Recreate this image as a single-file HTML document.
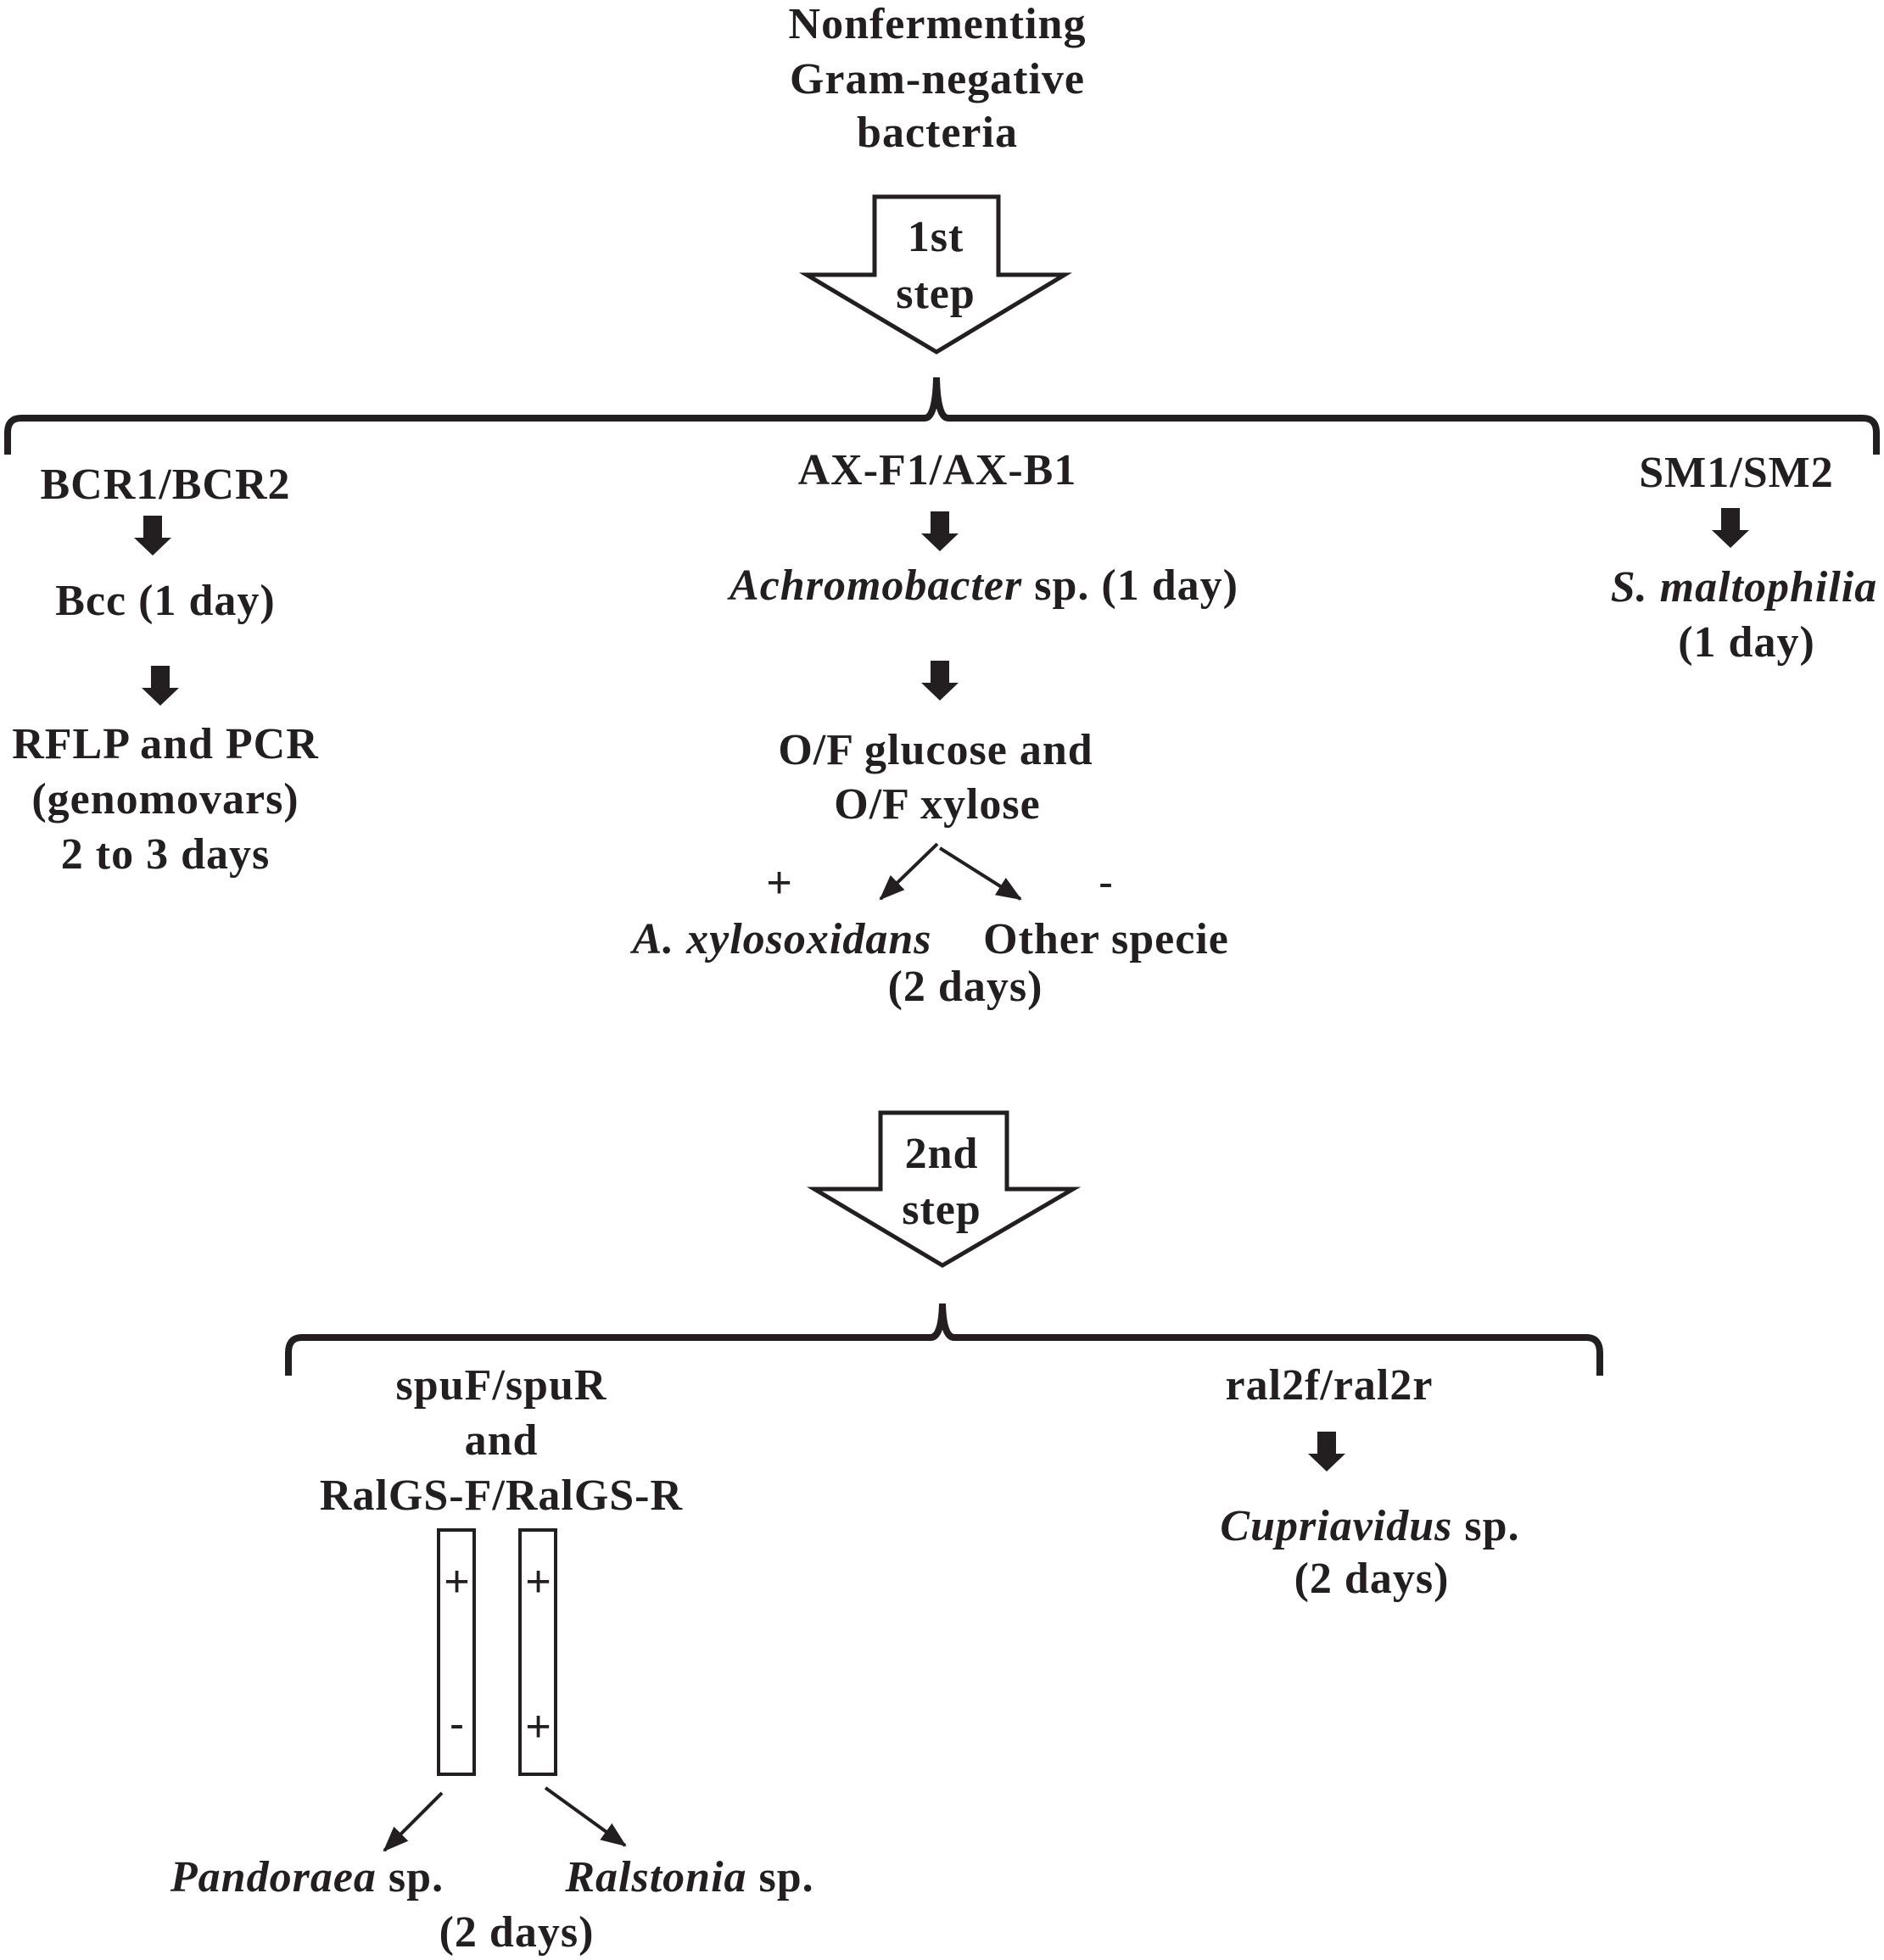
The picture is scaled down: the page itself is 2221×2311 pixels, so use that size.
<!DOCTYPE html>
<html><head><meta charset="utf-8"><style>
html,body{margin:0;padding:0;background:#fff}
svg{display:block}
text{font-family:"Liberation Serif","Times New Roman",serif;font-weight:bold;font-size:52px;fill:#231f20;letter-spacing:1px}
.i{font-style:italic}
.r{font-weight:normal;font-family:"Liberation Sans",sans-serif;font-size:52px}
</style></head><body>
<svg width="2221" height="2311" viewBox="0 0 2221 2311" xmlns="http://www.w3.org/2000/svg">
<defs>
<g id="ba"><rect x="-11" y="0" width="22" height="27" fill="#231f20"/><polygon points="-22,26 22,26 0,47" fill="#231f20"/></g>
<marker id="ah" markerWidth="30" markerHeight="24" refX="28" refY="12" orient="auto" markerUnits="userSpaceOnUse" viewBox="0 0 30 24"><polygon points="0,0 30,12 0,24" fill="#231f20"/></marker>
</defs>
<g text-anchor="middle">
<text x="1105" y="45">Nonfermenting</text>
<text x="1105" y="110">Gram-negative</text>
<text x="1105" y="173">bacteria</text>

<polygon points="1031,232 1177,232 1177,324 1255,324 1104,415 951,324 1031,324" fill="none" stroke="#231f20" stroke-width="5"/>
<text x="1103" y="296">1st</text>
<text x="1103" y="363">step</text>

<path d="M9,536 L9,510 Q9,493 25,493 L1090,493 Q1103,493 1104,445 Q1105,493 1118,493 L2196,493 Q2212,493 2212,510 L2212,536" fill="none" stroke="#231f20" stroke-width="8"/>

<text x="195" y="588">BCR1/BCR2</text>
<use href="#ba" x="180" y="608"/>
<text x="195" y="725">Bcc (1 day)</text>
<use href="#ba" x="189" y="785"/>
<text x="195" y="894">RFLP and PCR</text>
<text x="195" y="959">(genomovars)</text>
<text x="195" y="1024">2 to 3 days</text>

<text x="1105" y="571">AX-F1/AX-B1</text>
<use href="#ba" x="1108" y="603"/>
<text x="1160" y="707"><tspan class="i">Achromobacter</tspan> sp. (1 day)</text>
<use href="#ba" x="1108" y="779"/>
<text x="1103" y="901">O/F glucose and</text>
<text x="1105" y="965">O/F xylose</text>
<text class="r" x="919" y="1058">+</text>
<text class="r" x="1304" y="1058">-</text>
<line x1="1105" y1="995" x2="1038" y2="1060" stroke="#231f20" stroke-width="4" marker-end="url(#ah)"/>
<line x1="1108" y1="1000" x2="1203" y2="1060" stroke="#231f20" stroke-width="4" marker-end="url(#ah)"/>
<text class="i" x="922" y="1124">A. xylosoxidans</text>
<text x="1304" y="1124">Other specie</text>
<text x="1138" y="1180">(2 days)</text>

<text x="2047" y="574">SM1/SM2</text>
<use href="#ba" x="2040" y="599"/>
<text x="2056" y="709"><tspan class="i">S. maltophilia</tspan></text>
<text x="2059" y="774">(1 day)</text>

<polygon points="1038,1312 1187,1312 1187,1402 1265,1402 1111,1492 960,1402 1038,1402" fill="none" stroke="#231f20" stroke-width="5"/>
<text x="1110" y="1377">2nd</text>
<text x="1110" y="1443">step</text>

<path d="M340,1622 L340,1595 Q340,1577 356,1577 L1097,1577 Q1110,1577 1111,1537 Q1112,1577 1125,1577 L1870,1577 Q1886,1577 1886,1595 L1886,1622" fill="none" stroke="#231f20" stroke-width="8"/>

<text x="591" y="1650">spuF/spuR</text>
<text x="591" y="1715">and</text>
<text x="591" y="1780">RalGS-F/RalGS-R</text>
<rect x="517" y="1804" width="42" height="288" fill="none" stroke="#231f20" stroke-width="4"/>
<rect x="613" y="1804" width="42" height="288" fill="none" stroke="#231f20" stroke-width="4"/>
<text class="r" x="539" y="1882">+</text>
<text class="r" x="635" y="1882">+</text>
<text class="r" x="539" y="2050">-</text>
<text class="r" x="635" y="2053">+</text>
<line x1="521" y1="2114" x2="453" y2="2182" stroke="#231f20" stroke-width="4" marker-end="url(#ah)"/>
<line x1="643" y1="2108" x2="737" y2="2176" stroke="#231f20" stroke-width="4" marker-end="url(#ah)"/>
<text x="362" y="2230"><tspan class="i">Pandoraea</tspan> sp.</text>
<text x="813" y="2230"><tspan class="i">Ralstonia</tspan> sp.</text>
<text x="609" y="2295">(2 days)</text>

<text x="1567" y="1650">ral2f/ral2r</text>
<use href="#ba" x="1564" y="1688"/>
<text x="1615" y="1816"><tspan class="i">Cupriavidus</tspan> sp.</text>
<text x="1617" y="1878">(2 days)</text>
</g>
</svg>
</body></html>
